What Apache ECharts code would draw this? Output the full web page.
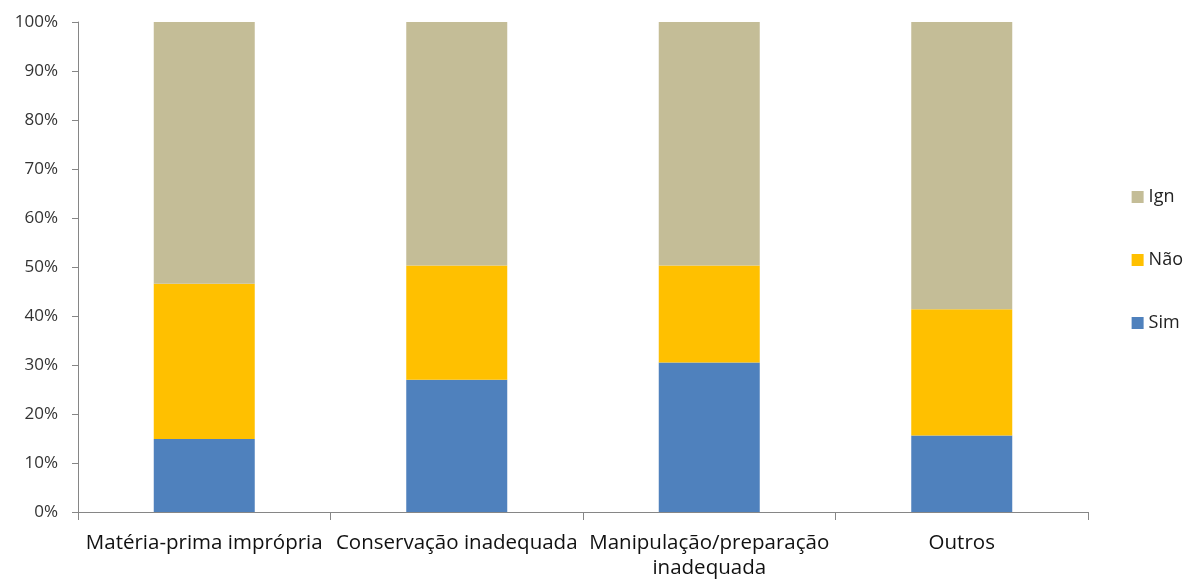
<!DOCTYPE html>
<html>
<head>
<meta charset="utf-8">
<script src="https://cdn.jsdelivr.net/npm/echarts@6/dist/echarts.min.js"></script>
<style>
  html, body { margin: 0; padding: 0; background: #fff; }
  #chart { width: 1190px; height: 581px; }
</style>
</head>
<body>
<div id="chart"></div>
<script>
// Categories of the cause attributed to each outbreak
const categories = [
  'Matéria-prima imprópria',
  'Conservação inadequada',
  'Manipulação/preparação\ninadequada',
  'Outros'
];
// Share (%) of each answer per category
const sim = [14.9, 27.0, 30.5, 15.6];
const nao = [31.7, 23.3, 19.8, 25.8];
const ign = [53.4, 49.7, 49.7, 58.6];

const seriesNames = ['Sim', 'Não', 'Ign'];
const seriesColors = ['#4F81BD', '#FFC000', '#C4BD97'];
const seriesValues = [sim, nao, ign];

const fontFamily = '"Open Sans", Lato, sans-serif';

const chart = echarts.init(document.getElementById('chart'), null, { renderer: 'canvas' });
chart.setOption({
  animation: false,
  backgroundColor: '#ffffff',
  grid: { left: 78, right: 102, top: 22, bottom: 67, containLabel: false },
  legend: {
    orient: 'vertical',
    right: 2,
    top: 183,
    itemGap: 45,
    itemWidth: 12,
    itemHeight: 12,
    icon: 'rect',
    data: ['Ign', 'Não', 'Sim'],
    textStyle: { fontFamily, fontSize: 18, color: '#222' }
  },
  xAxis: {
    type: 'category',
    data: categories,
    axisLine: { lineStyle: { color: '#868686', width: 1 } },
    axisTick: { show: true, length: 8, lineStyle: { color: '#868686' } },
    axisLabel: {
      fontFamily, fontSize: 20.5, color: '#111', margin: 19, lineHeight: 25, interval: 0
    }
  },
  yAxis: {
    type: 'value',
    min: 0,
    max: 100,
    interval: 10,
    axisLine: { show: true, lineStyle: { color: '#868686', width: 1 } },
    axisTick: { show: true, length: 6, lineStyle: { color: '#868686' } },
    splitLine: { show: false },
    axisLabel: {
      fontFamily, fontSize: 17, color: '#333', margin: 20,
      formatter: v => v + '%'
    }
  },
  series: seriesNames.map((name, i) => ({
    name,
    type: 'bar',
    stack: 'total',
    barWidth: '40%',
    itemStyle: { color: seriesColors[i] },
    data: seriesValues[i]
  }))
});
</script>
</body>
</html>
